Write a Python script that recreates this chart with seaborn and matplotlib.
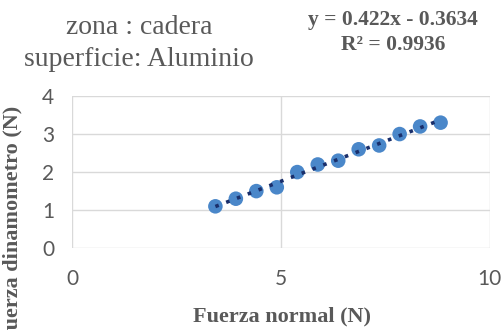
import numpy as np
import matplotlib
matplotlib.use("Agg")
import matplotlib.pyplot as plt
import seaborn as sns

# ====== Data ======
fuerza_normal = [3.43, 3.92, 4.41, 4.90, 5.39, 5.88, 6.37, 6.86, 7.35, 7.84, 8.33, 8.82]
fuerza_dinamometro = [1.1, 1.3, 1.5, 1.6, 2.0, 2.2, 2.3, 2.6, 2.7, 3.0, 3.2, 3.3]
x_ticks = [0, 5, 10]
y_ticks = [0, 1, 2, 3, 4]

sns.set_style("white")
plt.rcParams["font.family"] = ["Liberation Serif", "DejaVu Serif"]

gray = "#595959"
grid_gray = "#d9d9d9"

fig = plt.figure(figsize=(5.04, 3.30), dpi=100)
ax = fig.add_axes([0.143, 0.248, 0.829, 0.461])

sns.regplot(
    x=fuerza_normal, y=fuerza_dinamometro, ax=ax, ci=None,
    scatter_kws=dict(s=110, color="#4a87c9", edgecolor="none", alpha=1, zorder=3),
    line_kws=dict(color="#1a2f6b", ls=(0, (1, 2.2)), lw=2.6, zorder=4),
)

ax.set_xlim(0, 10)
ax.set_ylim(0, 4)
ax.set_xticks(x_ticks)
ax.set_yticks(y_ticks)
ax.grid(True, color=grid_gray, lw=1)
for s in ax.spines.values():
    s.set_visible(False)
ax.tick_params(length=0, labelsize=15, labelcolor=gray)
ax.tick_params(axis="x", pad=15)
ax.tick_params(axis="y", pad=13)
for lab in ax.get_xticklabels() + ax.get_yticklabels():
    lab.set_family(["Lato", "DejaVu Sans"])
ax.set_xlabel("")
ax.set_ylabel("")

# ====== Text ======
fig.text(282 / 504, 1 - 316 / 330, "Fuerza normal (N)", ha="center", va="center",
         fontsize=16, fontweight="bold", color=gray)
# y label is clipped at the bottom edge, as in the original figure
fig.text(12 / 504, 1 - 224 / 330, "Fuerza dinamometro (N)", ha="center", va="center",
         rotation=90, fontsize=16, fontweight="bold", color=gray)
fig.text(139 / 504, 1 - 28 / 330, "zona : cadera", ha="center", va="center",
         fontsize=20, color=gray)
fig.text(139 / 504, 1 - 60 / 330, "superficie: Aluminio", ha="center", va="center",
         fontsize=20, color=gray)
fig.text(393 / 504, 1 - 20 / 330, "y = 0.422x - 0.3634", ha="center", va="center",
         fontsize=15.5, fontweight="bold", color=gray)
fig.text(393 / 504, 1 - 45 / 330, "R² = 0.9936", ha="center", va="center",
         fontsize=15.5, fontweight="bold", color=gray)

fig.savefig("out.png", dpi=100)
